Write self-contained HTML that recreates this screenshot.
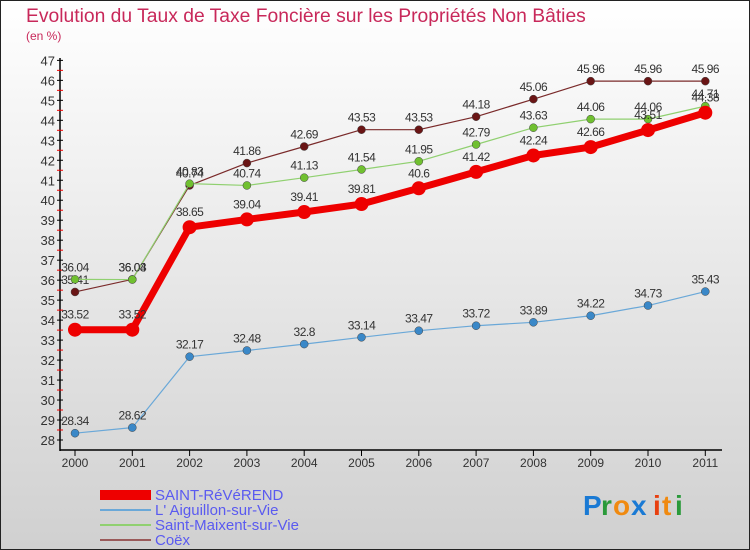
<!DOCTYPE html>
<html><head><meta charset="utf-8"><style>
body{margin:0}
#wrap{width:750px;height:550px;position:relative;overflow:hidden}
svg text{font-family:"Liberation Sans",sans-serif}
</style></head><body>
<div id="wrap">
<svg id="chart" width="750" height="550" xmlns="http://www.w3.org/2000/svg">
<defs><linearGradient id="bg" x1="0" y1="0" x2="0" y2="1"><stop offset="0" stop-color="#ffffff"/><stop offset="1" stop-color="#d0d0d0"/></linearGradient></defs>
<rect x="0.5" y="0.5" width="749" height="549" fill="url(#bg)" stroke="#222"/>
<text x="26" y="22" font-size="19.3" fill="#c8285a">Evolution du Taux de Taxe Foncière sur les Propriétés Non Bâties</text>
<text x="26" y="40" font-size="12" fill="#c8285a">(en %)</text>
<g id="axes"></g>
<g id="series"></g>
<g id="legend"></g>
<g font-size="28" font-weight="bold">
<text x="583" y="515" fill="#1a7ad4">P</text><text x="601" y="515" fill="#2a9a3a">r</text><text x="613" y="515" fill="#f08a10">o</text><text x="631" y="515" fill="#1a7ad4">x</text><text x="653" y="515" fill="#e84010">i</text><text x="662" y="515" fill="#f08a10">t</text><text x="675" y="515" fill="#2a9a3a">i</text>
</g>
</svg></div>
<script>
const years=[2000,2001,2002,2003,2004,2005,2006,2007,2008,2009,2010,2011];
const yTicks=[28,29,30,31,32,33,34,35,36,37,38,39,40,41,42,43,44,45,46,47];
const saintReverend=[33.52,33.52,38.65,39.04,39.41,39.81,40.6,41.42,42.24,42.66,43.51,44.38];
const aiguillon=[28.34,28.62,32.17,32.48,32.8,33.14,33.47,33.72,33.89,34.22,34.73,35.43];
const saintMaixent=[36.04,36.03,40.83,40.74,41.13,41.54,41.95,42.79,43.63,44.06,44.06,44.71];
const coex=[35.41,36.04,40.74,41.86,42.69,43.53,43.53,44.18,45.06,45.96,45.96,45.96];
const names=["SAINT-RéVéREND","L' Aiguillon-sur-Vie","Saint-Maixent-sur-Vie","Coëx"];
const NS="http://www.w3.org/2000/svg";
const xS=i=>75+i*57.3;
const yS=v=>440-(v-28)*19.98;
function mk(tag,attrs,parent){const e=document.createElementNS(NS,tag);for(const k in attrs)e.setAttribute(k,attrs[k]);parent.appendChild(e);return e;}
const axes=document.getElementById('axes');
let a=mk('line',{x1:60,y1:58,x2:60,y2:451,stroke:'#000','stroke-width':1.5},axes);


a=mk('line',{x1:60,y1:450,x2:722,y2:450,stroke:'#000','stroke-width':1.5},axes);


yTicks.forEach(v=>{const y=yS(v);
 mk('line',{x1:57,y1:y,x2:63,y2:y,stroke:'#000'},axes);
 if(v<47)mk('line',{x1:57,y1:y-10,x2:63,y2:y-10,stroke:'#e00'},axes);
 const t=mk('text',{x:55,y:y+5,'font-size':13,'text-anchor':'end',fill:'#333'},axes);t.textContent=v;
 
 });
years.forEach((yr,i)=>{const x=xS(i);
 mk('line',{x1:x,y1:450,x2:x,y2:456,stroke:'#000'},axes);
 const t=mk('text',{x:x,y:467,'font-size':12,'text-anchor':'middle',fill:'#333'},axes);t.textContent=yr;
 
 });
const series=[
 {d:coex,c:'#7a2a2a',f:'#6a1515',w:1.2,r:4,n:'coex'},
 {d:saintMaixent,c:'#90d070',f:'#70c030',w:1.2,r:4,n:'saint-maixent'},
 {d:aiguillon,c:'#6aa8d8',f:'#3a88c8',w:1.2,r:4,n:'aiguillon'},
 {d:saintReverend,c:'#ee0000',f:'#ee0000',w:7,r:7,n:'saint-reverend'}];
const sg=document.getElementById('series');
series.forEach(s=>{
 const g=mk('g',{},sg);
 
 
 const pts=s.d.map((v,i)=>xS(i)+','+yS(v)).join(' ');
 const pl=mk('polyline',{points:pts,fill:'none',stroke:s.c,'stroke-width':s.w,'stroke-linejoin':'round'},g);
 
 
 s.d.forEach((v,i)=>{
  const c=mk('circle',{cx:xS(i),cy:yS(v),r:s.r,fill:s.f,stroke:s.r>5?'none':'#444','stroke-width':0.5},g);
  
  
  const t=mk('text',{x:xS(i),y:yS(v)-s.r-4,'font-size':12,'text-anchor':'middle',fill:'#333','letter-spacing':'-0.5'},g);
  t.textContent=String(v);
  
  
 });
});
const lg=document.getElementById('legend');
const lstyles=[{c:'#ee0000',w:10},{c:'#6aa8d8',w:2},{c:'#90d070',w:2},{c:'#9a5a5a',w:2}];
names.forEach((n,i)=>{const y=494+i*15;
 const g=mk('g',{},lg);
 
 
 mk('line',{x1:100,y1:y+1,x2:151,y2:y+1,stroke:lstyles[i].c,'stroke-width':lstyles[i].w},g);
 const t=mk('text',{x:155,y:y+6,'font-size':15,fill:'#5a5af0'},g);t.textContent=n;});
</script>
</body></html>
